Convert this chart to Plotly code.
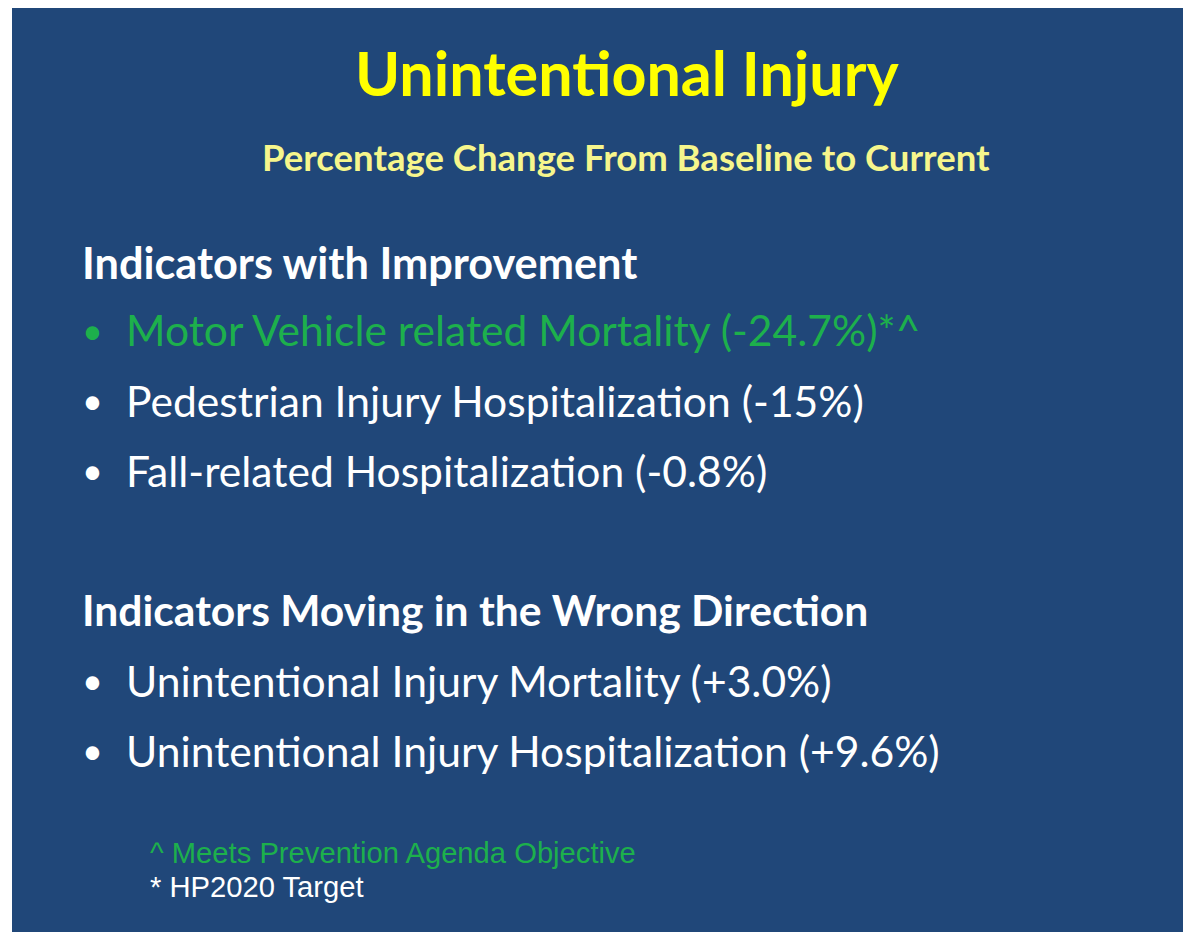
import plotly.graph_objects as go

title = "Unintentional Injury"
subtitle = "Percentage Change From Baseline to Current"
headings = ["Indicators with Improvement", "Indicators Moving in the Wrong Direction"]
improve_items = [
    "Motor Vehicle related Mortality (-24.7%)*^",
    "Pedestrian Injury Hospitalization (-15%)",
    "Fall-related Hospitalization (-0.8%)",
]
improve_colors = ["#1db04c", "white", "white"]
wrong_items = [
    "Unintentional Injury Mortality (+3.0%)",
    "Unintentional Injury Hospitalization (+9.6%)",
]
wrong_colors = ["white", "white"]
footnotes = ["^ Meets Prevention Agenda Objective", "* HP2020 Target"]
footnote_colors = ["#1db04c", "white"]

W, H = 1183, 932
BG = "#204779"
FONT = "Lato"

fig = go.Figure()
fig.update_layout(
    width=W, height=H, margin=dict(l=0, r=0, t=0, b=0),
    paper_bgcolor="white", plot_bgcolor="white",
    xaxis=dict(visible=False, range=[0, W], fixedrange=True),
    yaxis=dict(visible=False, range=[H, 0], fixedrange=True),
    showlegend=False,
)
fig.add_shape(type="rect", xref="paper", yref="paper", x0=12 / W, x1=1, y0=0, y1=1 - 8 / H,
              fillcolor=BG, line_width=0, layer="below")


def txt(x, y, s, size, color, bold=False, xanchor="left", family=FONT):
    fig.add_annotation(xref="paper", yref="paper", x=x / W, y=1 - y / H,
                       text=f"<b>{s}</b>" if bold else s,
                       showarrow=False, xanchor=xanchor, yanchor="middle",
                       font=dict(family=family, size=size, color=color))


txt(627, 72, title, 61, "#ffff00", bold=True, xanchor="center")
txt(626, 157, subtitle, 36.5, "#f6f68c", bold=True, xanchor="center")

txt(80, 262, headings[0], 43.3, "white", bold=True)
for i, (s, c) in enumerate(zip(improve_items, improve_colors)):
    y = 330 + i * 70
    txt(80, y, "•", 36, c)
    txt(124, y, s, 42.6, c)

txt(80, 609, headings[1], 42.6, "white", bold=True)
for i, (s, c) in enumerate(zip(wrong_items, wrong_colors)):
    y = 680 + i * 70
    txt(80, y, "•", 36, c)
    txt(124, y, s, 42.6, c)

for i, (s, c) in enumerate(zip(footnotes, footnote_colors)):
    txt(148, 853 + i * 34, s, 29.2, c, family="Liberation Sans")

fig.write_html(
    "out.html",
    config={"displayModeBar": False, "staticPlot": True},
    post_script="document.body.style.margin='0';document.body.style.overflow='hidden';",
)
